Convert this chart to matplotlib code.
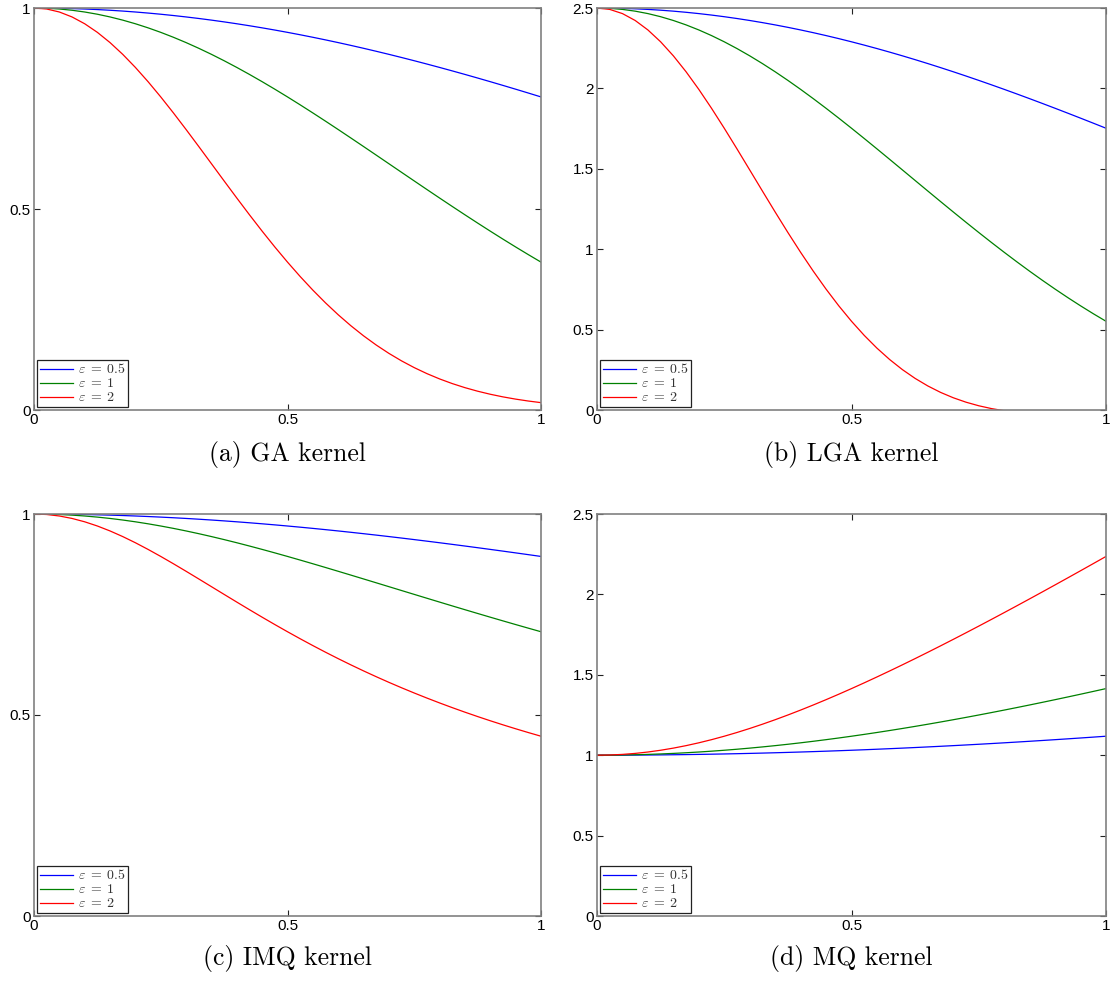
import matplotlib
matplotlib.use("Agg")
import matplotlib.pyplot as plt

plt.rcParams["mathtext.fontset"] = "cm"
plt.rcParams["font.family"] = "Liberation Sans"

# radial distance samples shared by every kernel
r = [0.0, 0.025, 0.05, 0.075, 0.1, 0.125, 0.15, 0.175, 0.2, 0.225,
     0.25, 0.275, 0.3, 0.325, 0.35, 0.375, 0.4, 0.425, 0.45, 0.475,
     0.5, 0.525, 0.55, 0.575, 0.6, 0.625, 0.65, 0.675, 0.7, 0.725,
     0.75, 0.775, 0.8, 0.825, 0.85, 0.875, 0.9, 0.925, 0.95, 0.975, 1.0]

eps_labels = [r"$\varepsilon\;=\;0.5$", r"$\varepsilon\;=\;1$", r"$\varepsilon\;=\;2$"]
line_colors = ["#0000ff", "#008000", "#ff0000"]

ga_05 = [1.0, 0.99984, 0.99938, 0.99859, 0.99750, 0.99610, 0.99439, 0.99237, 0.99005, 0.98742,
         0.98450, 0.98127, 0.97775, 0.97394, 0.96984, 0.96545, 0.96079, 0.95585, 0.95063, 0.94516,
         0.93941, 0.93341, 0.92716, 0.92067, 0.91393, 0.90696, 0.89976, 0.89234, 0.88471, 0.87686,
         0.86882, 0.86057, 0.85214, 0.84353, 0.83475, 0.82580, 0.81669, 0.80742, 0.79802, 0.78847,
         0.77880]
ga_1 = [1.0, 0.99938, 0.99750, 0.99439, 0.99005, 0.98450, 0.97775, 0.96984, 0.96079, 0.95063,
        0.93941, 0.92716, 0.91393, 0.89976, 0.88471, 0.86882, 0.85214, 0.83475, 0.81669, 0.79802,
        0.77880, 0.75910, 0.73897, 0.71848, 0.69768, 0.67663, 0.65541, 0.63405, 0.61263, 0.59119,
        0.56978, 0.54847, 0.52729, 0.50630, 0.48554, 0.46504, 0.44486, 0.42502, 0.40555, 0.38650,
        0.36788]
ga_2 = [1.0, 0.99750, 0.99005, 0.97775, 0.96079, 0.93941, 0.91393, 0.88471, 0.85214, 0.81669,
        0.77880, 0.73897, 0.69768, 0.65541, 0.61263, 0.56978, 0.52729, 0.48554, 0.44486, 0.40555,
        0.36788, 0.33204, 0.29820, 0.26647, 0.23693, 0.20961, 0.18452, 0.16162, 0.14086, 0.12215,
        0.10540, 0.09049, 0.07730, 0.06571, 0.05558, 0.04677, 0.03916, 0.03263, 0.02705, 0.02232,
        0.01832]

lga_05 = [2.5, 2.49944, 2.49781, 2.49507, 2.49126, 2.48636, 2.48038, 2.47332, 2.46522, 2.45605,
          2.44586, 2.43462, 2.42238, 2.40913, 2.39490, 2.37968, 2.36354, 2.34646, 2.32846, 2.30958,
          2.28982, 2.26920, 2.24779, 2.22557, 2.20257, 2.17883, 2.15436, 2.12920, 2.10339, 2.07692,
          2.04986, 2.02220, 1.99402, 1.96529, 1.93609, 1.90643, 1.87634, 1.84584, 1.81499, 1.78379,
          1.75230]
lga_1 = [2.5, 2.49781, 2.49126, 2.48038, 2.46522, 2.44586, 2.42238, 2.39490, 2.36354, 2.32846,
         2.28982, 2.24779, 2.20257, 2.15436, 2.10339, 2.04986, 1.99402, 1.93609, 1.87634, 1.81499,
         1.75230, 1.68852, 1.62388, 1.55864, 1.49303, 1.42727, 1.36161, 1.29624, 1.23138, 1.16722,
         1.10395, 1.04175, 0.98076, 0.92115, 0.86304, 0.80656, 0.75181, 0.69889, 0.64787, 0.59883,
         0.55182]
lga_2 = [2.5, 2.49126, 2.46522, 2.42238, 2.36354, 2.28982, 2.20257, 2.10339, 1.99402, 1.87634,
         1.75230, 1.62388, 1.49303, 1.36161, 1.23138, 1.10395, 0.98076, 0.86304, 0.75181, 0.64787,
         0.55182, 0.46403, 0.38467, 0.31377, 0.25114, 0.19651, 0.14946, 0.10950, 0.07606, 0.04855,
         0.02635, 0.00882, -0.00464, -0.01462, -0.02167, -0.02631, -0.02898, -0.03010, -0.03003,
         -0.02907, -0.02747]

imq_05 = [1.0, 0.99992, 0.99969, 0.99930, 0.99875, 0.99805, 0.99720, 0.99619, 0.99504, 0.99373,
          0.99228, 0.99068, 0.98894, 0.98705, 0.98503, 0.98287, 0.98058, 0.97816, 0.97561, 0.97294,
          0.97014, 0.96723, 0.96421, 0.96107, 0.95783, 0.95448, 0.95103, 0.94750, 0.94386, 0.94014,
          0.93633, 0.93244, 0.92848, 0.92444, 0.92033, 0.91616, 0.91192, 0.90763, 0.90328, 0.89888,
          0.89443]
imq_1 = [1.0, 0.99969, 0.99875, 0.99720, 0.99504, 0.99228, 0.98894, 0.98503, 0.98058, 0.97561,
         0.97014, 0.96421, 0.95783, 0.95103, 0.94386, 0.93633, 0.92848, 0.92033, 0.91192, 0.90328,
         0.89443, 0.88540, 0.87622, 0.86691, 0.85749, 0.84800, 0.83844, 0.82885, 0.81923, 0.80961,
         0.80000, 0.79042, 0.78087, 0.77137, 0.76194, 0.75258, 0.74329, 0.73410, 0.72500, 0.71600,
         0.70711]
imq_2 = [1.0, 0.99875, 0.99504, 0.98894, 0.98058, 0.97014, 0.95783, 0.94386, 0.92848, 0.91192,
         0.89443, 0.87622, 0.85749, 0.83844, 0.81923, 0.80000, 0.78087, 0.76194, 0.74329, 0.72500,
         0.70711, 0.68966, 0.67267, 0.65618, 0.64018, 0.62470, 0.60971, 0.59524, 0.58124, 0.56773,
         0.55470, 0.54213, 0.53000, 0.51830, 0.50702, 0.49614, 0.48564, 0.47552, 0.46575, 0.45632,
         0.44721]

mq_05 = [1.0, 1.00008, 1.00031, 1.00070, 1.00125, 1.00195, 1.00281, 1.00382, 1.00499, 1.00631,
         1.00778, 1.00941, 1.01119, 1.01312, 1.01520, 1.01743, 1.01980, 1.02233, 1.02500, 1.02782,
         1.03078, 1.03388, 1.03712, 1.04051, 1.04403, 1.04769, 1.05149, 1.05542, 1.05948, 1.06368,
         1.06800, 1.07245, 1.07703, 1.08174, 1.08657, 1.09152, 1.09659, 1.10177, 1.10708, 1.11250,
         1.11803]
mq_1 = [1.0, 1.00031, 1.00125, 1.00281, 1.00499, 1.00778, 1.01119, 1.01520, 1.01980, 1.02500,
        1.03078, 1.03712, 1.04403, 1.05149, 1.05948, 1.06800, 1.07703, 1.08657, 1.09659, 1.10708,
        1.11803, 1.12944, 1.14127, 1.15353, 1.16619, 1.17925, 1.19269, 1.20649, 1.22066, 1.23516,
        1.25000, 1.26516, 1.28062, 1.29639, 1.31244, 1.32877, 1.34536, 1.36221, 1.37931, 1.39665,
        1.41421]
mq_2 = [1.0, 1.00125, 1.00499, 1.01119, 1.01980, 1.03078, 1.04403, 1.05948, 1.07703, 1.09659,
        1.11803, 1.14127, 1.16619, 1.19269, 1.22066, 1.25000, 1.28062, 1.31244, 1.34536, 1.37931,
        1.41421, 1.45000, 1.48661, 1.52398, 1.56205, 1.60078, 1.64012, 1.68000, 1.72047, 1.76139,
        1.80278, 1.84459, 1.88680, 1.92938, 1.97231, 2.01556, 2.05913, 2.10297, 2.14709, 2.19146,
        2.23607]

captions = ["(a) GA kernel", "(b) LGA kernel", "(c) IMQ kernel", "(d) MQ kernel"]
y_ticks_small = [0, 0.5, 1]
y_ticks_big = [0, 0.5, 1, 1.5, 2, 2.5]
x_ticks = [0, 0.5, 1]

panels = [
    ([ga_05, ga_1, ga_2], 1.0, y_ticks_small),
    ([lga_05, lga_1, lga_2], 2.5, y_ticks_big),
    ([imq_05, imq_1, imq_2], 1.0, y_ticks_small),
    ([mq_05, mq_1, mq_2], 2.5, y_ticks_big),
]

W, H = 1118, 982
fig = plt.figure(figsize=(W / 100, H / 100), dpi=100)

# pixel boxes (left, top, right, bottom)
boxes = [(34, 8, 541, 410), (597, 8, 1106, 410),
         (34, 514, 541, 916), (597, 514, 1106, 916)]
caption_y = [455, 455, 958, 958]


def tick_fmt(v):
    return "%g" % v


for (series, ymax, yticks), box, cap, cy in zip(panels, boxes, captions, caption_y):
    left, top, right, bottom = box
    ax = fig.add_axes([left / W, 1 - bottom / H, (right - left) / W, (bottom - top) / H])
    for vals, col, lab in zip(series, line_colors, eps_labels):
        ax.plot(r, vals, color=col, lw=0.9, label=lab)
    ax.set_xlim(0, 1)
    ax.set_ylim(0, ymax)
    ax.set_xticks(x_ticks)
    ax.set_xticklabels([tick_fmt(v) for v in x_ticks])
    ax.set_yticks(yticks)
    ax.set_yticklabels([tick_fmt(v) for v in yticks])
    ax.tick_params(direction="in", length=4, width=0.8, color="#222222",
                   labelsize=11, pad=2.5, top=True, right=True)
    for sp in ax.spines.values():
        sp.set_color("#808080")
        sp.set_linewidth(1.2)
    leg = ax.legend(loc="lower left", fontsize=10, handlelength=2.4,
                    handletextpad=0.35, labelspacing=0.0, borderpad=0.15,
                    borderaxespad=0.25, fancybox=False, framealpha=1.0)
    leg.get_frame().set_edgecolor("#222222")
    leg.get_frame().set_linewidth(0.9)
    for t in leg.get_texts():
        t.set_color("#333333")
    fig.text((left + right) / 2 / W, 1 - cy / H, cap, ha="center", va="center",
             fontsize=18.5, family="cmr10")

fig.savefig("out.png", dpi=100)
